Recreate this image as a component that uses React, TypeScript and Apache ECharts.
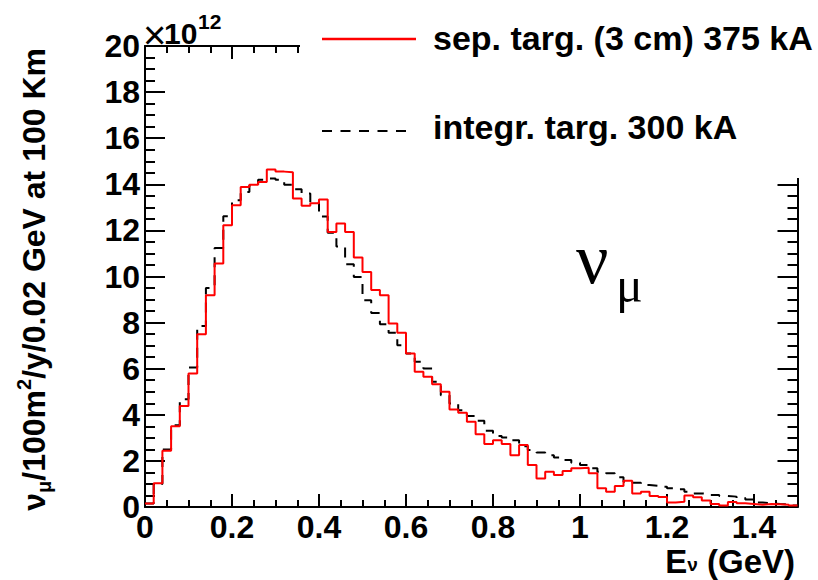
import React, { useEffect, useRef } from 'react';
import * as echarts from 'echarts';

// Bin width of the histograms (GeV)
const binWidth = 0.02;
const xMin = 0;
const xMax = 1.5;
const yMin = 0;
const yMax = 20;

// Flux per bin, in units of 10^12 (nu_mu / 100 m^2 / y / 0.02 GeV at 100 km)
const sepTarg = [
  0.15, 1.03, 2.44, 3.5, 4.38, 5.79, 7.5, 9.19, 10.56, 12.22,
  13.09, 13.88, 13.98, 14.1, 14.64, 14.55, 14.52, 13.38, 13.07, 13.18,
  13.34, 11.93, 12.3, 11.93, 10.82, 10.2, 9.41, 9.19, 7.96, 7.56,
  6.66, 5.87, 5.65, 5.33, 5.0, 4.23, 4.09, 3.7, 3.16, 2.73,
  2.9, 2.73, 2.25, 2.69, 1.82, 1.24, 1.53, 1.39, 1.56, 1.68,
  1.7, 1.46, 0.81, 0.66, 0.91, 1.14, 0.59, 0.66, 0.48, 0.43,
  0.2, 0.23, 0.5, 0.42, 0.28, 0.13, 0.06, 0.22, 0.16, 0.13,
  0.1, 0.13, 0.12, 0.1, 0.06,
];

const integrTarg = [
  0.15, 1.0, 2.5, 3.55, 4.67, 6.05, 7.85, 9.5, 11.24, 12.61,
  13.31, 13.67, 13.96, 14.2, 14.25, 14.2, 13.98, 13.78, 13.6, 13.2,
  12.6, 11.9, 11.3, 10.53, 9.98, 8.97, 8.42, 7.93, 7.56, 7.02,
  6.66, 6.3, 6.01, 5.43, 4.85, 4.49, 4.2, 3.95, 3.74, 3.31,
  3.08, 3.02, 2.9, 2.64, 2.47, 2.36, 2.25, 2.15, 2.04, 1.92,
  1.82, 1.68, 1.53, 1.46, 1.29, 1.1, 1.05, 0.95, 0.92, 0.88,
  0.81, 0.77, 0.66, 0.59, 0.56, 0.52, 0.48, 0.45, 0.39, 0.33,
  0.19, 0.16, 0.13, 0.12, 0.07,
];

const legendLabels = ['sep. targ. (3 cm) 375 kA', 'integr. targ. 300 kA'];

const FONT = 'Liberation Sans';
const SERIF = 'Liberation Serif';

function toSteps(values: number[]) {
  const pts: number[][] = values.map((v, i) => [i * binWidth, v]);
  pts.push([values.length * binWidth, values[values.length - 1]]);
  return pts;
}

const black = '#000';

function xAxisDef(position: 'top' | 'bottom', interval: number, tickLen: number, labels: boolean, line: boolean) {
  return {
    type: 'value',
    min: xMin,
    max: xMax,
    interval,
    position,
    axisLine: { show: line, onZero: false, lineStyle: { color: black, width: 2 } },
    axisTick: { show: true, inside: true, length: tickLen, lineStyle: { color: black, width: 2 } },
    axisLabel: {
      show: labels,
      showMaxLabel: false,
      margin: 5,
      color: black,
      fontFamily: FONT,
      fontWeight: 'bold',
      fontSize: 32,
      lineHeight: 30,
      formatter: (v: number) => String(Math.round(v * 10) / 10),
    },
    splitLine: { show: false },
  };
}

function yAxisDef(position: 'left' | 'right', interval: number, tickLen: number, labels: boolean, line: boolean) {
  return {
    type: 'value',
    min: yMin,
    max: yMax,
    interval,
    position,
    axisLine: { show: line, onZero: false, lineStyle: { color: black, width: 2 } },
    axisTick: { show: true, inside: true, length: tickLen, lineStyle: { color: black, width: 2 } },
    axisLabel: {
      show: labels,
      margin: 5,
      color: black,
      fontFamily: FONT,
      fontWeight: 'bold',
      fontSize: 32,
    },
    splitLine: { show: false },
  };
}

export default function App() {
  const ref = useRef<HTMLDivElement>(null);

  useEffect(() => {
    if (!ref.current) return;
    const chart = echarts.init(ref.current, undefined, { renderer: 'svg' });

    const boldText = (size: number) => ({ fontFamily: FONT, fontWeight: 'bold', fontSize: size, fill: black });

    chart.setOption({
      animation: false,
      backgroundColor: '#fff',
      grid: { left: 145, right: 20.5, top: 46, bottom: 73, containLabel: false },
      xAxis: [
        xAxisDef('bottom', 0.2, 13, true, true),
        xAxisDef('bottom', 0.05, 7, false, false),
        xAxisDef('top', 0.2, 13, false, true),
        xAxisDef('top', 0.05, 7, false, false),
      ],
      yAxis: [
        yAxisDef('left', 2, 20, true, true),
        yAxisDef('left', 0.5, 10, false, false),
        yAxisDef('right', 2, 20, false, true),
        yAxisDef('right', 0.5, 10, false, false),
      ],
      series: [
        {
          name: legendLabels[1],
          type: 'line',
          step: 'end',
          xAxisIndex: 0,
          yAxisIndex: 0,
          symbol: 'none',
          data: toSteps(integrTarg),
          lineStyle: { color: black, width: 2, type: [10, 8] },
          z: 3,
        },
        {
          name: legendLabels[0],
          type: 'line',
          step: 'end',
          xAxisIndex: 0,
          yAxisIndex: 0,
          symbol: 'none',
          data: toSteps(sepTarg),
          lineStyle: { color: '#ff0000', width: 2 },
          z: 4,
        },
      ],
      graphic: [
        // legend box (white, covers the frame)
        { type: 'rect', z: 50, shape: { x: 300, y: 0, width: 518, height: 178 }, style: { fill: '#fff' } },
        { type: 'line', z: 51, shape: { x1: 322, y1: 39, x2: 416, y2: 39 }, style: { stroke: '#ff0000', lineWidth: 2.5 } },
        {
          type: 'text', z: 51, x: 433, y: 38,
          style: { text: legendLabels[0], ...boldText(34), textAlign: 'left', textVerticalAlign: 'middle' },
        },
        { type: 'line', z: 51, shape: { x1: 322, y1: 131, x2: 408, y2: 131 }, style: { stroke: black, lineWidth: 2, lineDash: [10, 8.5] } },
        {
          type: 'text', z: 51, x: 433, y: 127,
          style: { text: legendLabels[1], ...boldText(34), textAlign: 'left', textVerticalAlign: 'middle' },
        },
        // x10^12 multiplier
        {
          type: 'text', z: 51, x: 143, y: 35,
          style: { text: '×', fontFamily: FONT, fontSize: 40, fill: black, textAlign: 'left', textVerticalAlign: 'middle' },
        },
        {
          type: 'text', z: 51, x: 164, y: 33,
          style: { text: '10', ...boldText(30), textAlign: 'left', textVerticalAlign: 'middle' },
        },
        {
          type: 'text', z: 51, x: 198, y: 21,
          style: { text: '12', ...boldText(21), textAlign: 'left', textVerticalAlign: 'middle' },
        },
        // nu_mu label
        {
          type: 'text', z: 51, x: 576, y: 259,
          style: { text: 'ν', fontFamily: SERIF, fontSize: 72, fill: black, textAlign: 'left', textVerticalAlign: 'middle' },
        },
        {
          type: 'text', z: 51, x: 616, y: 285,
          style: { text: 'μ', fontFamily: SERIF, fontSize: 50, fill: black, textAlign: 'left', textVerticalAlign: 'middle' },
        },
        // y-axis title
        {
          type: 'text', z: 51, x: 34, y: 48, rotation: Math.PI / 2,
          style: {
            text: '{a|ν}{sub|μ}{a|/100m}{sup|2}{a|/y/0.02 GeV at 100 Km}',
            textAlign: 'right',
            textVerticalAlign: 'middle',
            rich: {
              a: { ...boldText(32), lineHeight: 40 },
              sub: { ...boldText(20), verticalAlign: 'bottom', lineHeight: 20 },
              sup: { ...boldText(20), verticalAlign: 'top', lineHeight: 20 },
            },
          },
        },
        // x-axis title
        {
          type: 'text', z: 51, x: 795, y: 561,
          style: {
            text: '{a|E}{sub|ν}{a| (GeV)}',
            textAlign: 'right',
            textVerticalAlign: 'middle',
            rich: {
              a: { ...boldText(33), lineHeight: 26 },
              sub: { ...boldText(19), verticalAlign: 'bottom', lineHeight: 14 },
            },
          },
        },
      ],
    });

    return () => chart.dispose();
  }, []);

  return (
    <div
      ref={ref}
      style={{ position: 'absolute', left: 0, top: 0, width: 818, height: 580, background: '#fff' }}
    />
  );
}
